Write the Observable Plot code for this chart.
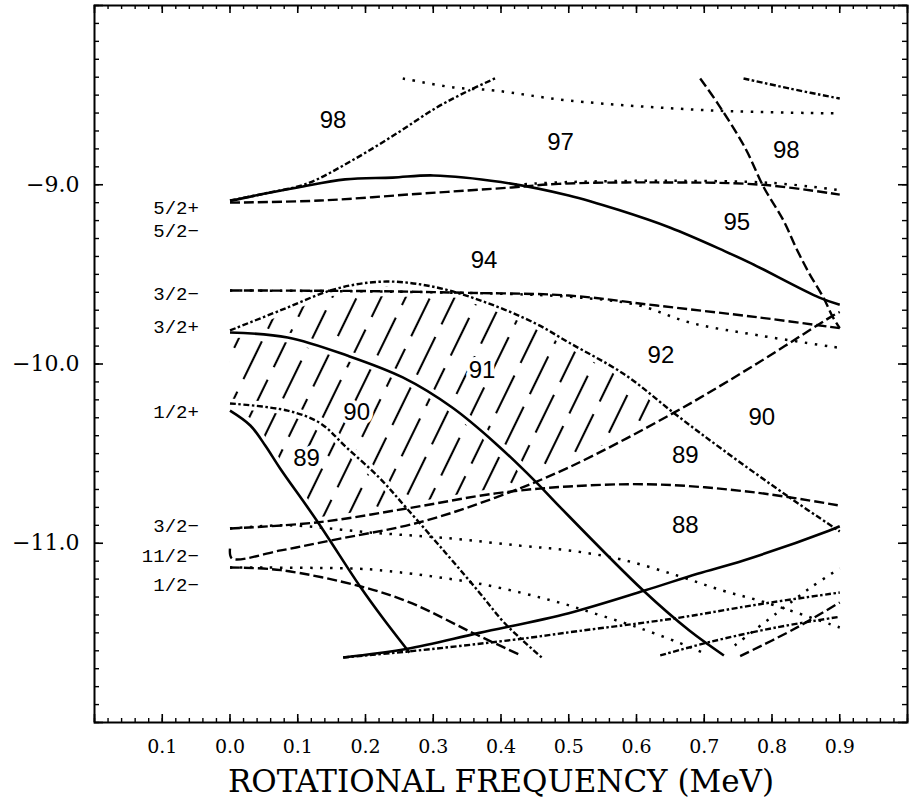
<!DOCTYPE html>
<html>
<head>
<meta charset="utf-8">
<script src="https://cdn.jsdelivr.net/npm/d3@7"></script>
<script src="https://cdn.jsdelivr.net/npm/@observablehq/plot@0.6"></script>
<style>
  body { margin: 0; background: #fff; }
  svg { display: block; }
</style>
</head>
<body>
<div id="chart"></div>
<script>
// ---------------- DATA ----------------
// Solid "95" curve
const A_x = [0, 0.05, 0.1, 0.17, 0.24, 0.3, 0.4, 0.5, 0.573, 0.65, 0.73, 0.77, 0.87, 0.9];
const A_y = [-9.09, -9.05, -9.015, -8.97, -8.96, -8.948, -8.985, -9.06, -9.14, -9.24, -9.37, -9.44, -9.63, -9.67];
// Dashed 5/2+
const B_x = [0, 0.133, 0.28, 0.416, 0.485, 0.63, 0.785, 0.9];
const B_y = [-9.10, -9.088, -9.05, -9.015, -8.995, -8.987, -9.0, -9.055];
// Dotted overlapping 5/2+ on the right
const X_x = [0.42, 0.5, 0.65, 0.8, 0.9];
const X_y = [-9.0, -8.985, -8.978, -8.99, -9.03];
// Dotted top curve
const C_x = [0.255, 0.33, 0.39, 0.5, 0.714, 0.9];
const C_y = [-8.407, -8.457, -8.474, -8.53, -8.586, -8.602];
// Dash-dot "98" rising
const D_x = [0, 0.05, 0.114, 0.18, 0.246, 0.305, 0.353, 0.394];
const D_y = [-9.088, -9.05, -8.993, -8.865, -8.714, -8.569, -8.474, -8.402];
// Dashed 3/2- (upper)
const E_x = [0, 0.2, 0.35, 0.5, 0.63, 0.78, 0.9];
const E_y = [-9.59, -9.593, -9.603, -9.618, -9.674, -9.74, -9.80];
// Dotted 3/2- (upper)
const F_x = [0, 0.3, 0.5, 0.6, 0.68, 0.78, 0.9];
const F_y = [-9.59, -9.6, -9.625, -9.67, -9.77, -9.84, -9.91];
// Solid 3/2+
const G_x = [0, 0.085, 0.173, 0.255, 0.328, 0.392, 0.451, 0.485, 0.61, 0.678, 0.729];
const G_y = [-9.824, -9.852, -9.953, -10.075, -10.243, -10.443, -10.656, -10.79, -11.264, -11.487, -11.626];
// Dash-dot 3/2+ ("94"/"92")
const H_x = [0, 0.075, 0.158, 0.231, 0.305, 0.378, 0.451, 0.5, 0.583, 0.656, 0.729, 0.826, 0.9];
const H_y = [-9.813, -9.70, -9.579, -9.54, -9.573, -9.657, -9.774, -9.88, -10.06, -10.276, -10.483, -10.745, -10.934];
// Dash-dot 1/2+
const I_x = [0, 0.085, 0.133, 0.172, 0.22, 0.261, 0.319, 0.367, 0.406, 0.46];
const I_y = [-10.22, -10.26, -10.33, -10.466, -10.633, -10.806, -11.057, -11.27, -11.448, -11.637];
// Solid 1/2+
const J_x = [0, 0.03, 0.052, 0.074, 0.128, 0.192, 0.225, 0.265];
const J_y = [-10.26, -10.343, -10.455, -10.583, -10.873, -11.241, -11.414, -11.61];
// Dashed 3/2- (lower)
const L1_x = [0, 0.128, 0.261, 0.392, 0.5, 0.63, 0.776, 0.9];
const L1_y = [-10.918, -10.884, -10.806, -10.722, -10.683, -10.672, -10.717, -10.79];
// Dashed 11/2- (rising)
const M_x = [0, 0.003, 0.075, 0.148, 0.279, 0.392, 0.5, 0.656, 0.778, 0.89, 0.9];
const M_y = [-11.03, -11.085, -11.04, -10.985, -10.884, -10.745, -10.577, -10.27, -9.997, -9.73, -9.71];
// Dotted 3/2- (lower)
const O_x = [0, 0.085, 0.207, 0.328, 0.426, 0.5, 0.577, 0.66, 0.727, 0.79, 0.9];
const O_y = [-10.918, -10.90, -10.94, -10.974, -11.013, -11.04, -11.09, -11.18, -11.264, -11.33, -11.47];
// Dashed 1/2-
const L2_x = [0, 0.075, 0.192, 0.269, 0.357, 0.43];
const L2_y = [-11.135, -11.15, -11.24, -11.336, -11.498, -11.626];
// Dotted 1/2-
const P_x = [0, 0.18, 0.22, 0.367, 0.485, 0.533, 0.606, 0.68, 0.7];
const P_y = [-11.135, -11.141, -11.15, -11.225, -11.33, -11.386, -11.475, -11.581, -11.615];
// Solid "88" rising
const K_x = [0.167, 0.26, 0.368, 0.5, 0.612, 0.69, 0.758, 0.884, 0.9];
const K_y = [-11.637, -11.59, -11.50, -11.39, -11.264, -11.17, -11.096, -10.93, -10.905];
// Dash-dot from the same start
const R_x = [0.167, 0.26, 0.417, 0.514, 0.655, 0.782, 0.9];
const R_y = [-11.637, -11.605, -11.539, -11.49, -11.42, -11.34, -11.275];
// Dash-dot lower right
const S_x = [0.635, 0.71, 0.806, 0.9];
const S_y = [-11.626, -11.549, -11.47, -11.41];
// Dashed lower right
const T_x = [0.753, 0.832, 0.9];
const T_y = [-11.63, -11.48, -11.33];
// Dotted lower right rising
const U_x = [0.745, 0.807, 0.856, 0.9];
const U_y = [-11.57, -11.39, -11.25, -11.14];
// Steep dashed top right
const N_x = [0.694, 0.72, 0.76, 0.788, 0.817, 0.836, 0.855, 0.876, 0.89, 0.9];
const N_y = [-8.407, -8.547, -8.792, -9.015, -9.2, -9.356, -9.495, -9.63, -9.74, -9.80];
// Dash-dot top right
const W_x = [0.758, 0.826, 0.9];
const W_y = [-8.407, -8.463, -8.519];

// Hatched region
const hatchX      = [0, 0.03, 0.052, 0.074, 0.128, 0.2, 0.3, 0.392, 0.45, 0.5, 0.58, 0.655];
const hatchTop    = [-9.813, -9.77, -9.73, -9.70, -9.62, -9.55, -9.565, -9.66, -9.77, -9.88, -10.05, -10.27];
const hatchBottom = [-10.26, -10.343, -10.455, -10.583, -10.873, -10.845, -10.79, -10.722, -10.66, -10.577, -10.43, -10.27];

// Number labels in the plot
const numLabels = ["98", "97", "98", "95", "94", "91", "90", "89", "92", "90", "89", "88"];
const numLabelX = [0.152, 0.488, 0.821, 0.748, 0.375, 0.372, 0.187, 0.113, 0.636, 0.785, 0.672, 0.672];
const numLabelY = [-8.642, -8.764, -8.81, -9.21, -9.423, -10.036, -10.27, -10.527, -9.953, -10.30, -10.51, -10.90];

// State labels at the left
const stateLabels = ["5/2+", "5/2−", "3/2−", "3/2+", "1/2+", "3/2−", "11/2−", "1/2−"];
const stateLabelY = [-9.128, -9.255, -9.61, -9.794, -10.268, -10.902, -11.07, -11.232];
const stateLabelX = -0.046;

// Tick labels
const xTickValues = [-0.1, 0.0, 0.1, 0.2, 0.3, 0.4, 0.5, 0.6, 0.7, 0.8, 0.9];
const xTickLabels = ["0.1", "0.0", "0.1", "0.2", "0.3", "0.4", "0.5", "0.6", "0.7", "0.8", "0.9"];
const yTickValues = [-9, -10, -11];
const yTickLabels = ["−9.0", "−10.0", "−11.0"];
const xTitle = "ROTATIONAL FREQUENCY (MeV)";

// ---------------- BUILD ----------------
const curves = [
  {id: "A", style: "solid", x: A_x, y: A_y},
  {id: "B", style: "dashed", x: B_x, y: B_y},
  {id: "X", style: "dotted", x: X_x, y: X_y},
  {id: "C", style: "dotted", x: C_x, y: C_y},
  {id: "D", style: "dashdot", x: D_x, y: D_y},
  {id: "E", style: "dashed", x: E_x, y: E_y},
  {id: "F", style: "dotted", x: F_x, y: F_y},
  {id: "G", style: "solid", x: G_x, y: G_y},
  {id: "H", style: "dashdot", x: H_x, y: H_y},
  {id: "I", style: "dashdot", x: I_x, y: I_y},
  {id: "J", style: "solid", x: J_x, y: J_y},
  {id: "L1", style: "dashed", x: L1_x, y: L1_y},
  {id: "M", style: "dashed", x: M_x, y: M_y},
  {id: "O", style: "dotted", x: O_x, y: O_y},
  {id: "L2", style: "dashed", x: L2_x, y: L2_y},
  {id: "P", style: "dotted", x: P_x, y: P_y},
  {id: "K", style: "solid", x: K_x, y: K_y},
  {id: "R", style: "dashdot", x: R_x, y: R_y},
  {id: "S", style: "dashdot", x: S_x, y: S_y},
  {id: "T", style: "dashed", x: T_x, y: T_y},
  {id: "U", style: "dotted", x: U_x, y: U_y},
  {id: "N", style: "dashed", x: N_x, y: N_y},
  {id: "W", style: "dashdot", x: W_x, y: W_y}
];
const rows = curves.flatMap(c => c.x.map((x, i) => ({id: c.id, style: c.style, x, y: c.y[i]})));
const haloIds = new Set(["G", "I", "E", "H", "J", "L1", "M"]);

const hatchRows = hatchX.map((x, i) => ({x, top: hatchTop[i], bottom: hatchBottom[i]}));
const numRows = numLabels.map((t, i) => ({t, x: numLabelX[i], y: numLabelY[i]}));
const stateRows = stateLabels.map((t, i) => ({t, x: stateLabelX, y: stateLabelY[i]}));

const styles = {
  solid:   {strokeWidth: 2.6},
  dashed:  {strokeWidth: 2.4, strokeDasharray: "10,4"},
  dashdot: {strokeWidth: 2.4, strokeDasharray: "6,2.5,2.5,2.5"},
  dotted:  {strokeWidth: 2.5, strokeDasharray: "2.5,7.5"}
};

const W = 917, Hh = 800, mL = 94, mR = 10, mT = 5, mB = 78;
const frameW = W - mL - mR, frameH = Hh - mT - mB;

const xMinor = d3.range(0, 61).map(i => +(-0.2 + i * 0.02).toFixed(2));
const xMajor = d3.range(0, 13).map(i => +(-0.2 + i * 0.1).toFixed(1));
const yMinor = d3.range(0, 41).map(i => +(-12 + i * 0.1).toFixed(1));
const yMajor = [-12, -11, -10, -9, -8];

const xLab = new Map(xTickValues.map((v, i) => [v, xTickLabels[i]]));
const yLab = new Map(yTickValues.map((v, i) => [v, yTickLabels[i]]));

const lineMarks = Object.entries(styles).map(([s, st]) =>
  Plot.line(rows.filter(r => r.style === s), {
    x: "x", y: "y", z: "id", stroke: "black", curve: "catmull-rom",
    strokeLinecap: "butt", ...st
  })
);

const svg = Plot.plot({
  width: W, height: Hh,
  marginLeft: mL, marginRight: mR, marginTop: mT, marginBottom: mB,
  x: {domain: [-0.2, 1.0]},
  y: {domain: [-12, -8]},
  style: {background: "white", color: "black"},
  marks: [
    Plot.areaY(hatchRows, {x: "x", y1: "bottom", y2: "top", fill: "url(#hatch)", curve: "catmull-rom"}),
    Plot.line(rows.filter(r => haloIds.has(r.id)), {x: "x", y: "y", z: "id", stroke: "white", strokeWidth: 10, curve: "catmull-rom"}),
    ...lineMarks,
    // inward ticks
    Plot.tickX(xMinor, {x: d => d, insetTop: frameH - 4, strokeWidth: 1.4}),
    Plot.tickX(xMajor, {x: d => d, insetTop: frameH - 8, strokeWidth: 1.6}),
    Plot.tickX(xMinor, {x: d => d, insetBottom: frameH - 4, strokeWidth: 1.4}),
    Plot.tickX(xMajor, {x: d => d, insetBottom: frameH - 8, strokeWidth: 1.6}),
    Plot.tickY(yMinor, {y: d => d, insetRight: frameW - 5, strokeWidth: 1.4}),
    Plot.tickY(yMajor, {y: d => d, insetRight: frameW - 9, strokeWidth: 1.6}),
    Plot.tickY(yMinor, {y: d => d, insetLeft: frameW - 5, strokeWidth: 1.4}),
    Plot.tickY(yMajor, {y: d => d, insetLeft: frameW - 9, strokeWidth: 1.6}),
    Plot.frame({stroke: "black", strokeWidth: 2}),
    Plot.axisX({ticks: xTickValues, tickFormat: d => xLab.get(d), tickSize: 0, tickPadding: 17,
      fontSize: 19, fontFamily: "DejaVu Serif", label: null}),
    Plot.axisY({ticks: yTickValues, tickFormat: d => yLab.get(d), tickSize: 0, tickPadding: 15,
      fontSize: 22, fontFamily: "DejaVu Serif", label: null}),
    Plot.text([xTitle], {text: d => d, frameAnchor: "bottom", dy: 69, fontSize: 31,
      fontFamily: "DejaVu Serif", fill: "black"}),
    Plot.text(numRows, {x: "x", y: "y", text: "t", fontSize: 24, fontFamily: "Liberation Sans",
      fill: "white", stroke: "white", strokeWidth: 8}),
    Plot.text(numRows, {x: "x", y: "y", text: "t", fontSize: 24, fontFamily: "Liberation Sans", fill: "black"}),
    Plot.text(stateRows, {x: "x", y: "y", text: "t", textAnchor: "end", fontSize: 19,
      fontFamily: "Liberation Mono", fill: "black"})
  ]
});

// hatch pattern definition
const NS = "http://www.w3.org/2000/svg";
const defs = document.createElementNS(NS, "defs");
const pat = document.createElementNS(NS, "pattern");
pat.setAttribute("id", "hatch");
pat.setAttribute("patternUnits", "userSpaceOnUse");
pat.setAttribute("width", "44");
pat.setAttribute("height", "56");
pat.setAttribute("patternTransform", "rotate(26)");
const segs = [[11, 0, 11, 42], [33, 24, 33, 56], [33, 0, 33, 10]];
for (const [x1, y1, x2, y2] of segs) {
  const l = document.createElementNS(NS, "line");
  l.setAttribute("x1", x1); l.setAttribute("y1", y1);
  l.setAttribute("x2", x2); l.setAttribute("y2", y2);
  l.setAttribute("stroke", "black");
  l.setAttribute("stroke-width", "2.1");
  pat.appendChild(l);
}
defs.appendChild(pat);
svg.insertBefore(defs, svg.firstChild);
svg.querySelectorAll('g[aria-label="area"] path').forEach(p => p.setAttribute("fill", "url(#hatch)"));

document.getElementById("chart").appendChild(svg);
</script>
</body>
</html>
